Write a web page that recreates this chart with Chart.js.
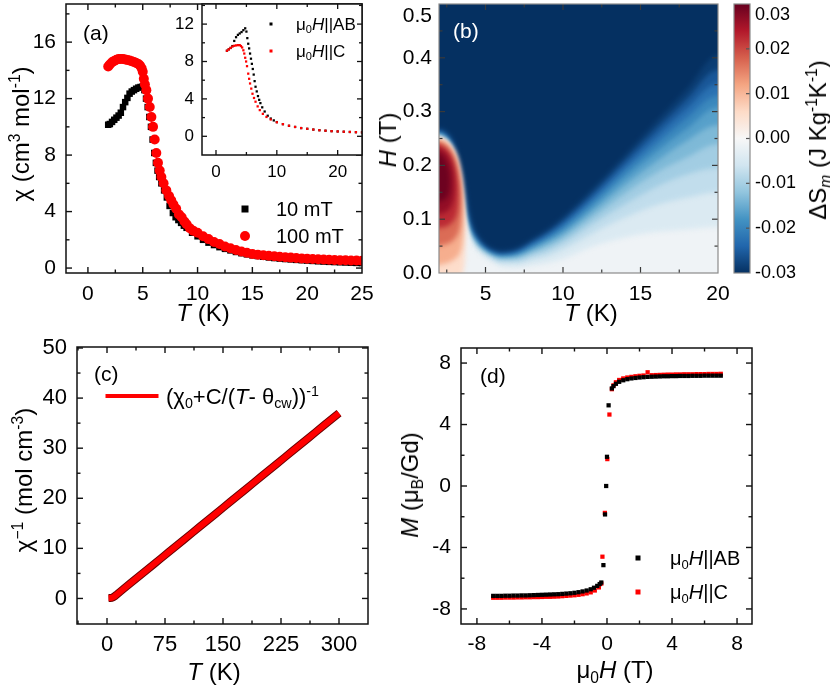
<!DOCTYPE html>
<html>
<head>
<meta charset="utf-8">
<script src="https://cdn.jsdelivr.net/npm/chart.js@4.4.1/dist/chart.umd.min.js"></script>
<style>
  body { margin: 0; width: 830px; height: 689px; position: relative; overflow: hidden; background: #fff;
         font-family: 'Liberation Sans', Arial, sans-serif; color: #000; }
  canvas { position: absolute; }
  .t { position: absolute; white-space: nowrap; line-height: 1; }
  .lc { transform: translate(0, -50%); }
  .cc { transform: translate(-50%, -50%); }
  .rc { transform: translate(-50%, -50%) rotate(-90deg); }
  sub, sup { font-size: 65%; line-height: 0; position: relative; vertical-align: baseline; }
  sup { top: -0.55em; }
  sub { top: 0.3em; }
  .mk { position: absolute; transform: translate(-50%, -50%); }
</style>
</head>
<body>
<canvas id="cA" width="380" height="350" style="left:0;top:-20px"></canvas>
<canvas id="cIn" width="230" height="210" style="left:150px;top:-20px"></canvas>
<canvas id="cB" width="360" height="350" style="left:370px;top:-20px"></canvas>
<canvas id="cBar" width="110" height="350" style="left:720px;top:-20px"></canvas>
<canvas id="cC" width="385" height="379" style="left:0;top:310px"></canvas>
<canvas id="cD" width="430" height="379" style="left:400px;top:310px"></canvas>

<!-- panel (a) -->
<div class="t lc" style="left:83px;top:32px;font-size:21px">(a)</div>
<div class="t rc" style="left:21px;top:134px;font-size:24px">χ (cm<sup>3</sup> mol<sup>-1</sup>)</div>
<div class="t cc" style="left:203px;top:313px;font-size:24px"><i>T</i> (K)</div>
<div class="mk" style="left:245px;top:209px;width:7px;height:7px;background:#000"></div>
<div class="t lc" style="left:276px;top:209px;font-size:20px">10 mT</div>
<div class="mk" style="left:245px;top:236px;width:10px;height:10px;border-radius:50%;background:#f00"></div>
<div class="t lc" style="left:276px;top:236px;font-size:20px">100 mT</div>
<div class="mk" style="left:271px;top:24px;width:3px;height:3px;background:#000"></div>
<div class="t lc" style="left:296px;top:24px;font-size:17px">μ<sub>0</sub><i>H</i>||AB</div>
<div class="mk" style="left:271px;top:51px;width:3px;height:3px;background:#f00"></div>
<div class="t lc" style="left:296px;top:51px;font-size:17px">μ<sub>0</sub><i>H</i>||C</div>

<!-- panel (b) -->
<div class="t lc" style="left:453px;top:30px;font-size:21px;color:#fff">(b)</div>
<div class="t rc" style="left:388px;top:140px;font-size:24px"><i>H</i> (T)</div>
<div class="t cc" style="left:591px;top:313px;font-size:24px"><i>T</i> (K)</div>
<div class="t rc" style="left:818px;top:140px;font-size:24px">ΔS<sub><i>m</i></sub> (J Kg<sup>-1</sup>K<sup>-1</sup>)</div>

<!-- panel (c) -->
<div class="t lc" style="left:94px;top:373px;font-size:21px">(c)</div>
<div class="mk" style="left:132px;top:396px;width:53px;height:4px;background:#f00"></div>
<div class="t lc" style="left:166px;top:397px;font-size:22px">(χ<sub>0</sub>+C/(<i>T</i>- θ<sub>cw</sub>))<sup>-1</sup></div>
<div class="t rc" style="left:24px;top:480px;font-size:24px">χ<sup>−1</sup> (mol cm<sup>-3</sup>)</div>
<div class="t cc" style="left:214px;top:672px;font-size:24px"><i>T</i> (K)</div>

<!-- panel (d) -->
<div class="t lc" style="left:480px;top:375px;font-size:21px">(d)</div>
<div class="t rc" style="left:410px;top:485px;font-size:24px"><i>M</i> (μ<sub>B</sub>/Gd)</div>
<div class="t cc" style="left:615px;top:670px;font-size:24px">μ<sub>0</sub><i>H</i> (T)</div>
<div class="mk" style="left:638px;top:558px;width:5px;height:5px;background:#000"></div>
<div class="t lc" style="left:670px;top:558px;font-size:20px">μ<sub>0</sub><i>H</i>||AB</div>
<div class="mk" style="left:638px;top:592px;width:5px;height:5px;background:#f00"></div>
<div class="t lc" style="left:670px;top:592px;font-size:20px">μ<sub>0</sub><i>H</i>||C</div>

<script>
// ---- (a) susceptibility, 10 mT and 100 mT ----
const tA10 = [1.85,2.0,2.2,2.4,2.6,2.8,3.0,3.2,3.4,3.6,3.8,4.0,4.2,4.4,4.6,4.8,5.0,5.15,5.3,5.45,
  5.6,5.75,5.9,6.05,6.2,6.35,6.5,6.7,6.95,7.2,7.45,7.75,8.0,8.25,8.5,8.75,9.0,9.5,10,10.5,
  11,11.5,12,12.5,13,13.5,14,14.5,15,15.5,16,16.5,17,17.5,18,18.5,19,19.5,20,20.5,
  21,21.5,22,22.5,23,23.5,24,24.5,25];
const chiA10 = [10.15,10.2,10.35,10.5,10.65,10.8,11.0,11.4,11.75,12.05,12.35,12.5,12.6,12.7,12.78,12.82,12.86,12.6,12.0,11.4,
  10.7,10.0,9.1,8.15,7.45,6.9,6.45,6.0,5.5,5.0,4.4,3.9,3.6,3.4,3.2,3.0,2.85,2.5,2.25,2.0,
  1.8,1.63,1.48,1.36,1.25,1.14,1.05,0.97,0.9,0.85,0.8,0.75,0.71,0.67,0.64,0.61,0.58,0.555,0.53,0.505,
  0.48,0.46,0.44,0.425,0.41,0.395,0.38,0.365,0.35];
const tA100 = [1.85,2.0,2.2,2.4,2.6,2.8,3.0,3.2,3.4,3.6,3.8,4.0,4.2,4.4,4.6,4.75,4.9,5.0,5.1,5.2,
  5.33,5.48,5.64,5.79,5.94,6.09,6.24,6.39,6.55,6.7,6.9,7.15,7.4,7.6,7.8,8.05,8.3,8.55,8.8,9.0,
  9.3,9.6,10,10.5,11,11.5,12,12.5,13,13.5,14,14.5,15,15.5,16,16.5,17,17.5,18,18.5,
  19,19.5,20,20.5,21,21.5,22,22.5,23,23.5,24,24.5,25];
const chiA100 = [14.28,14.42,14.57,14.67,14.75,14.8,14.8,14.8,14.77,14.73,14.7,14.65,14.6,14.52,14.45,14.35,14.15,13.9,13.4,13.0,
  12.6,12.0,11.4,10.7,10.0,9.1,8.15,7.45,6.9,6.45,6.0,5.5,5.1,4.8,4.5,4.2,3.8,3.6,3.3,3.1,
  2.82,2.65,2.5,2.25,2.05,1.85,1.7,1.53,1.4,1.28,1.17,1.08,1.0,0.95,0.91,0.87,0.84,0.8,0.77,0.74,
  0.71,0.685,0.66,0.64,0.62,0.605,0.59,0.575,0.56,0.55,0.54,0.53,0.52];
const aXTicks = [0, 5, 10, 15, 20, 25];
const aYTicks = [0, 4, 8, 12, 16];

// inset: field along AB and along C
const tInAB = [1.8,2.1,2.4,2.7,3.0,3.3,3.6,3.9,4.2,4.5,4.8,5.0,5.15,5.3,5.45,5.6,5.75,5.9,6.05,6.2,
  6.35,6.5,6.7,6.9,7.1,7.3,7.6,8.0,8.5,9,9.5,10,11,12,13,14,15,16,17,18,19,20,21,22,23,24];
const chiInAB = [9.15,9.3,9.45,9.65,10.2,10.6,10.85,11.0,11.15,11.35,11.55,11.2,10.5,9.9,9.4,8.85,8.3,7.75,7.2,6.6,
  5.9,5.3,4.8,4.3,3.9,3.55,3.1,2.65,2.2,1.9,1.7,1.52,1.3,1.12,1.0,0.88,0.8,0.72,0.65,0.6,0.55,0.52,0.49,0.46,0.44,0.42];
const tInC = [1.8,2.1,2.4,2.7,3.0,3.3,3.6,3.9,4.1,4.3,4.5,4.65,4.8,4.95,5.1,5.3,5.45,5.6,5.8,6.0,
  6.25,6.5,6.85,7.2,7.7,8.3,9,10,11,12,13,14,15,16,17,18,19,20,21,22,23,24];
const chiInC = [9.15,9.3,9.45,9.6,9.68,9.72,9.75,9.75,9.65,9.5,9.2,8.85,8.4,8.0,7.5,6.7,6.15,5.65,5.1,4.55,
  4.1,3.7,3.2,2.8,2.4,2.07,1.8,1.5,1.3,1.13,1.0,0.88,0.8,0.72,0.65,0.6,0.55,0.52,0.49,0.47,0.44,0.42];
const inXTicks = [0, 10, 20];
const inYTicks = [0, 4, 8, 12];

// ---- (b) entropy change map: contour lines H(T) per level ----
const heatT = [2,2.5,3,3.25,3.5,3.75,4,4.25,4.5,5,5.5,6,7,8,9,10,12,14,16,18,20];
const levels = [-0.03,-0.027,-0.024,-0.021,-0.018,-0.015,-0.012,-0.009,-0.006,-0.003];
const hM30 = [0.270,0.264,0.245,0.222,0.195,0.158,0.115,0.088,0.073,0.055,0.046,0.042,0.047,0.064,0.082,0.105,0.160,0.220,0.282,0.342,0.405];
const hM27 = [0.268,0.262,0.243,0.220,0.192,0.155,0.112,0.085,0.071,0.053,0.044,0.040,0.045,0.061,0.078,0.099,0.152,0.210,0.268,0.324,0.378];
const hM24 = [0.266,0.260,0.241,0.218,0.189,0.151,0.109,0.082,0.068,0.051,0.042,0.038,0.042,0.057,0.073,0.093,0.144,0.200,0.254,0.306,0.352];
const hM21 = [0.264,0.258,0.239,0.216,0.186,0.147,0.106,0.079,0.065,0.049,0.040,0.036,0.039,0.053,0.068,0.087,0.136,0.190,0.240,0.288,0.330];
const hM18 = [0.262,0.256,0.237,0.214,0.183,0.143,0.103,0.076,0.062,0.047,0.038,0.034,0.036,0.049,0.063,0.080,0.127,0.178,0.225,0.268,0.308];
const hM15 = [0.260,0.254,0.235,0.212,0.180,0.139,0.100,0.073,0.059,0.045,0.036,0.031,0.033,0.044,0.057,0.073,0.117,0.164,0.207,0.246,0.275];
const hM12 = [0.258,0.252,0.233,0.210,0.177,0.135,0.097,0.070,0.056,0.042,0.033,0.028,0.029,0.039,0.050,0.065,0.106,0.148,0.186,0.215,0.240];
const hM09 = [0.256,0.250,0.231,0.207,0.174,0.130,0.093,0.066,0.052,0.039,0.030,0.024,0.024,0.033,0.042,0.056,0.093,0.128,0.160,0.183,0.195];
const hM06 = [0.254,0.248,0.229,0.204,0.170,0.124,0.088,0.061,0.048,0.035,0.026,0.019,0.018,0.025,0.032,0.044,0.075,0.103,0.126,0.140,0.150];
const hM03 = [0.252,0.246,0.226,0.200,0.165,0.115,0.080,0.054,0.042,0.028,0.020,0.012,0.010,0.014,0.018,0.026,0.050,0.066,0.076,0.081,0.085];
// positive lobe (closed contours), T and H
const r1T = [1.6,2.0,2.5,3.05,3.4,3.58,3.67,3.7,3.66,3.55,3.45,1.6];
const r1H = [0.254,0.252,0.246,0.226,0.19,0.15,0.11,0.06,0.02,0.0,-0.03,-0.03];
const r2T = [1.6,2.0,2.5,3.05,3.35,3.52,3.58,3.52,3.3,2.8,2.0,1.6];
const r2H = [0.249,0.248,0.241,0.219,0.185,0.145,0.1,0.06,0.035,0.022,0.015,0.015];
const r3T = [1.6,2.0,2.5,3.0,3.3,3.42,3.42,3.25,2.8,2.3,2.0,1.6];
const r3H = [0.245,0.244,0.236,0.213,0.18,0.145,0.105,0.075,0.058,0.052,0.05,0.05];
const r4T = [1.6,2.0,2.5,2.95,3.2,3.25,3.1,2.7,2.3,2.0,1.6];
const r4H = [0.241,0.239,0.23,0.205,0.17,0.135,0.105,0.09,0.085,0.084,0.083];
const r5T = [1.6,2.0,2.5,2.85,3.0,2.95,2.7,2.3,2.0,1.6];
const r5H = [0.234,0.232,0.222,0.2,0.17,0.14,0.12,0.112,0.11,0.11];
const r6T = [1.6,2.0,2.35,2.6,2.7,2.6,2.3,2.0,1.6];
const r6H = [0.225,0.222,0.212,0.195,0.17,0.145,0.135,0.133,0.132];
const lobeVals = [0.0055, 0.011, 0.017, 0.0225, 0.0265, 0.0295];
const bXTicks = [5, 10, 15, 20];
const bYTicks = [0, 0.1, 0.2, 0.3, 0.4, 0.5];
const barTicks = [-0.03, -0.02, -0.01, 0, 0.01, 0.02, 0.03];

// ---- (c) inverse susceptibility ----
const tC = [2,4,6,8,10,12,15,20,30,40,50,60,70,80,90,100,110,120,130,140,
  150,160,170,180,190,200,210,220,230,240,250,260,270,280,290,300];
const invChi = [0.07,0.08,0.12,0.25,0.45,0.7,1.1,1.75,3.0,4.25,5.5,6.77,8.03,9.29,10.55,11.81,13.07,14.33,15.59,16.85,
  18.11,19.37,20.63,21.89,23.15,24.41,25.67,26.93,28.19,29.45,30.71,31.97,33.23,34.49,35.75,37.0];
const cXTicks = [0, 75, 150, 225, 300];
const cYTicks = [0, 10, 20, 30, 40, 50];

// ---- (d) magnetization loops ----
const hAB = [-7,-6.75,-6.5,-6.25,-6,-5.75,-5.5,-5.25,-5,-4.75,-4.5,-4.25,-4,-3.75,-3.5,-3.25,-3,-2.75,-2.5,-2.25,-2,-1.75,-1.5,-1.25,-1,
  -0.8,-0.6,-0.45,-0.35,-0.22,-0.12,-0.05,0.0,0.1,0.3,0.4,0.55,0.75,
  1,1.25,1.5,1.75,2,2.25,2.5,2.75,3,3.25,3.5,3.75,4,4.25,4.5,4.75,5,5.25,5.5,5.75,6,6.25,6.5,6.75,7];
const mAB = [-7.15,-7.15,-7.15,-7.14,-7.14,-7.13,-7.13,-7.12,-7.12,-7.11,-7.1,-7.09,-7.08,-7.07,-7.06,-7.05,-7.04,-7.02,-7.0,-6.98,-6.95,-6.91,-6.86,-6.8,-6.72,
  -6.62,-6.5,-6.38,-6.28,-5.15,-1.85,0.0,1.9,5.25,6.35,6.5,6.65,6.78,
  6.88,6.95,7.0,7.03,7.06,7.08,7.1,7.11,7.12,7.13,7.14,7.14,7.15,7.15,7.16,7.16,7.16,7.17,7.17,7.17,7.18,7.18,7.18,7.18,7.18];
const hC = [-7,-6.75,-6.5,-6.25,-6,-5.75,-5.5,-5.25,-5,-4.75,-4.5,-4.25,-4,-3.75,-3.5,-3.25,-3,-2.75,-2.5,-2.25,-2,-1.75,-1.5,-1.25,-1,
  -0.75,-0.5,-0.35,-0.28,-0.13,0.02,0.15,0.3,0.4,0.55,0.75,
  1,1.25,1.5,1.75,2,2.25,2.5,2.75,3,3.25,3.5,3.75,4,4.25,4.5,4.75,5,5.25,5.5,5.75,6,6.25,6.5,6.75,7];
const mC = [-7.27,-7.27,-7.27,-7.26,-7.26,-7.26,-7.25,-7.25,-7.24,-7.24,-7.23,-7.23,-7.22,-7.21,-7.21,-7.2,-7.19,-7.17,-7.15,-7.13,-7.11,-7.08,-7.04,-6.99,-6.92,
  -6.8,-6.6,-6.35,-4.6,-1.75,1.75,4.65,6.3,6.55,6.75,6.9,
  7.0,7.06,7.1,7.14,7.17,7.19,7.4,7.21,7.22,7.23,7.24,7.25,7.25,7.26,7.26,7.27,7.27,7.27,7.28,7.28,7.28,7.29,7.29,7.29,7.3];
const dTicks = [-8, -4, 0, 4, 8];

// ---------------------------------------------------------------
Chart.defaults.font.family = "'Liberation Sans', Arial, sans-serif";
Chart.defaults.color = '#000';

const rdbuStops = ['#053061','#2166ac','#4393c3','#92c5de','#d1e5f0','#f7f7f7','#fddbc7','#f4a582','#d6604d','#b2182b','#67001f'];
function rdbu(v) {
  const t = Math.min(1, Math.max(0, (v + 0.03) / 0.06)) * 10;
  const i = Math.min(9, Math.floor(t)), f = t - i;
  const a = rdbuStops[i], b = rdbuStops[i + 1];
  const ch = (h, k) => parseInt(h.slice(1 + 2 * k, 3 + 2 * k), 16);
  const c = [0, 1, 2].map(k => Math.round(ch(a, k) + (ch(b, k) - ch(a, k)) * f));
  return `rgb(${c[0]},${c[1]},${c[2]})`;
}

const pts = (xs, ys) => xs.map((x, i) => ({ x, y: ys[i] }));

function halfSteps(major, min, max) {
  const step = major[1] - major[0], out = [];
  for (let v = major[0] - step / 2; v <= max + 1e-9; v += step) if (v >= min - 1e-9) out.push(v);
  return out;
}

// box frame with inward ticks on the chosen sides
const frameTicks = {
  id: 'frameTicks',
  afterDatasetsDraw(chart, args, o) {
    if (!o || !o.sides) return;
    const { ctx, chartArea: a } = chart;
    const sx = chart.scales.x, sy = chart.scales.y;
    const seg = (x1, y1, x2, y2) => { ctx.beginPath(); ctx.moveTo(x1, y1); ctx.lineTo(x2, y2); ctx.stroke(); };
    ctx.save();
    ctx.filter = 'none';
    ctx.strokeStyle = o.tickColor || '#000';
    ctx.lineWidth = o.tickWidth || 1.3;
    const doX = (vals, len) => vals.forEach(v => {
      const p = sx.getPixelForValue(v);
      if (p < a.left + 1 || p > a.right - 1) return;
      if (o.sides.includes('b')) seg(p, a.bottom, p, a.bottom - len);
      if (o.sides.includes('t')) seg(p, a.top, p, a.top + len);
    });
    const doY = (vals, len) => vals.forEach(v => {
      const p = sy.getPixelForValue(v);
      if (p < a.top + 1 || p > a.bottom - 1) return;
      if (o.sides.includes('l')) seg(a.left, p, a.left + len, p);
      if (o.sides.includes('r')) seg(a.right, p, a.right - len, p);
    });
    if (o.xMajor) { doX(o.xMajor, o.major); if (o.minor) doX(halfSteps(o.xMajor, sx.min, sx.max), o.minor); }
    if (o.yMajor) { doY(o.yMajor, o.major); if (o.minor) doY(halfSteps(o.yMajor, sy.min, sy.max), o.minor); }
    ctx.strokeStyle = o.color || '#000';
    ctx.lineWidth = o.width || 1.5;
    ctx.strokeRect(a.left, a.top, a.right - a.left, a.bottom - a.top);
    ctx.restore();
  }
};
Chart.register(frameTicks);

function mkScale(pos, min, max, major, size, fontSize, pad, fmt) {
  return {
    type: 'linear', position: pos, min, max,
    grid: { display: false, drawTicks: false },
    border: { display: false },
    ticks: { font: { size: fontSize }, color: '#000', padding: pad, maxRotation: 0, autoSkip: false,
             callback: fmt || (v => String(v)) },
    afterBuildTicks: s => { s.ticks = major.map(v => ({ value: v })); },
    afterFit: s => {
      if (pos === 'bottom' || pos === 'top') s.height = size; else s.width = size;
      s.paddingLeft = s.paddingRight = s.paddingTop = s.paddingBottom = 0;
    }
  };
}

function makeChart(id, type, datasets, xs, ys, pad, frame, extra) {
  return new Chart(document.getElementById(id), {
    type,
    data: { datasets },
    options: {
      responsive: false, animation: false, events: [],
      layout: { padding: pad },
      plugins: { legend: { display: false }, tooltip: { enabled: false }, frameTicks: frame },
      scales: { x: xs, y: ys }
    },
    plugins: extra || []
  });
}

const blackFrame = (xm, ym) => ({ sides: 'lrtb', xMajor: xm, yMajor: ym, major: 6, minor: 3.5,
  color: '#111', width: 1.5, tickColor: '#111', tickWidth: 1.4 });

// (a) main
makeChart('cA', 'scatter', [
  { data: pts(tA10, chiA10), pointStyle: 'rect', pointRadius: 4.6, backgroundColor: '#000', borderWidth: 0, order: 2 },
  { data: pts(tA100, chiA100), pointStyle: 'circle', pointRadius: 5, backgroundColor: '#ff0000', borderWidth: 0, order: 1 }
], mkScale('bottom', -2, 25, aXTicks, 57, 21, 9),
   mkScale('left', -0.35, 18.7, aYTicks, 66, 21, 10),
   { left: 0, right: 18, top: 24, bottom: 0 }, blackFrame(aXTicks, aYTicks));

// (a) inset
const whiteArea = { id: 'whiteArea', beforeDatasetsDraw(c) {
  const a = c.chartArea; c.ctx.save(); c.ctx.fillStyle = '#fff';
  c.ctx.fillRect(a.left, a.top, a.right - a.left, a.bottom - a.top); c.ctx.restore(); } };
makeChart('cIn', 'scatter', [
  { data: pts(tInAB, chiInAB), pointStyle: 'rect', pointRadius: 1.6, backgroundColor: '#000', borderWidth: 0, order: 2 },
  { data: pts(tInC, chiInC), pointStyle: 'rect', pointRadius: 1.6, backgroundColor: '#ff0000', borderWidth: 0, order: 1 }
], mkScale('bottom', -2.3, 24, inXTicks, 35, 17, 7),
   mkScale('left', -2.0, 14.15, inYTicks, 52, 17, 8),
   { left: 0, right: 18, top: 24, bottom: 0 },
   { sides: 'lrtb', xMajor: inXTicks, yMajor: inYTicks, major: 5, minor: 3, color: '#111', width: 1.5, tickColor: '#111', tickWidth: 1.3 },
   [whiteArea]);

// (b) map: stacked layers, each filled from its contour line upwards, softened with a blur
const levelH = [hM30, hM27, hM24, hM21, hM18, hM15, hM12, hM09, hM06, hM03];
const edgePts = hs => {
  const p = pts(heatT, hs);
  return [{ x: 1.5, y: hs[0] }, ...p, { x: 20.5, y: hs[hs.length - 1] }];
};
const heatSets = levelH.map((hs, k) => {
  const col = rdbu(k === 0 ? -0.03 : (levels[k - 1] + levels[k]) / 2);
  return { data: edgePts(hs), fill: { value: 0.7 }, backgroundColor: col, borderWidth: 0,
           pointRadius: 0, cubicInterpolationMode: 'monotone', order: 100 + k };
});
[[r1T, r1H], [r2T, r2H], [r3T, r3H], [r4T, r4H], [r5T, r5H], [r6T, r6H]].forEach(([ts, hs], k) => {
  heatSets.push({ data: pts(ts, hs), fill: 'shape', backgroundColor: rdbu(lobeVals[k]), borderWidth: 0,
                  pointRadius: 0, tension: 0.35, order: 60 - k });
});
const heatSoft = {
  id: 'heatSoft',
  beforeDatasetsDraw(c) {
    const a = c.chartArea, ctx = c.ctx;
    ctx.save(); ctx.fillStyle = rdbu(-0.0012);
    ctx.fillRect(a.left, a.top, a.right - a.left, a.bottom - a.top); ctx.restore();
    ctx.filter = 'blur(2.6px)';
  },
  afterDatasetsDraw(c) { c.ctx.filter = 'none'; }
};
makeChart('cB', 'line', heatSets,
  mkScale('bottom', 2, 20, bXTicks, 57, 21, 9),
  mkScale('left', 0, 0.5, bYTicks, 69, 21, 7, v => (v === 0.5 ? ['', '0.5'] : v.toFixed(1))),
  { left: 0, right: 12, top: 24, bottom: 0 },
  { sides: 'lrtb', xMajor: bXTicks, yMajor: bYTicks, major: 6, minor: 3.5, color: '#8a8a8a', width: 1.2, tickColor: '#3a3a3a', tickWidth: 1.2 },
  [heatSoft]);

// colour bar
const barFill = { id: 'barFill', beforeDatasetsDraw(c) {
  const a = c.chartArea, ctx = c.ctx;
  const g = ctx.createLinearGradient(0, a.bottom, 0, a.top);
  rdbuStops.forEach((s, i) => g.addColorStop(i / (rdbuStops.length - 1), s));
  ctx.save(); ctx.fillStyle = g; ctx.fillRect(a.left, a.top, a.right - a.left, a.bottom - a.top); ctx.restore(); } };
makeChart('cBar', 'line', [{ data: [] }],
  { type: 'linear', display: false, min: 0, max: 1 },
  mkScale('right', -0.03, 0.03, barTicks, 80, 18, 5, v => (Math.abs(v - 0.03) < 1e-9 ? ['', '0.03'] : v.toFixed(2))),
  { left: 14, right: 0, top: 24, bottom: 57 },
  { sides: 'r', yMajor: barTicks, major: 4, color: '#8a8a8a', width: 1.2, tickColor: '#555', tickWidth: 1.2 },
  [barFill]);

// (c)
makeChart('cC', 'line', [
  { data: pts(tC, invChi), borderColor: '#6a0000', borderWidth: 8, pointRadius: 0, fill: false, order: 2 },
  { data: pts(tC, invChi), borderColor: '#ff0000', borderWidth: 6, pointRadius: 0, fill: false, order: 1 }
], mkScale('bottom', -38.8, 337.5, cXTicks, 65, 22, 8),
   mkScale('left', -5.1, 50.2, cYTicks, 77, 22, 10),
   { left: 0, right: 17, top: 37, bottom: 0 }, blackFrame(cXTicks, cYTicks));

// (d)
makeChart('cD', 'scatter', [
  { data: pts(hC, mC), pointStyle: 'rect', pointRadius: 3, backgroundColor: '#ff0000', borderWidth: 0, order: 2 },
  { data: pts(hAB, mAB), pointStyle: 'rect', pointRadius: 3, backgroundColor: '#000', borderWidth: 0, order: 1 }
], mkScale('bottom', -8.98, 8.92, dTicks, 65, 21, 8),
   mkScale('left', -8.98, 8.98, dTicks, 61, 21, 10),
   { left: 0, right: 78, top: 38, bottom: 0 }, blackFrame(dTicks, dTicks));
</script>
</body>
</html>
